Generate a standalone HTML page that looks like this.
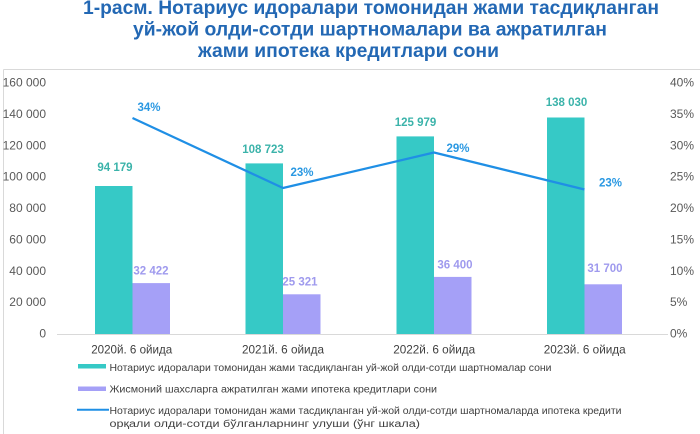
<!DOCTYPE html>
<html>
<head>
<meta charset="utf-8">
<style>
html,body{margin:0;padding:0;background:#fff;width:700px;height:434px;overflow:hidden;}
svg{display:block;}
text{font-family:"Liberation Sans","DejaVu Sans",sans-serif;}
</style>
</head>
<body>
<svg width="700" height="434" viewBox="0 0 700 434" xmlns="http://www.w3.org/2000/svg">
  <rect x="0" y="0" width="700" height="434" fill="#fff"/>
  <!-- Title -->
  <g fill="#2368b4" font-weight="bold" font-size="19">
    <text x="83" y="14" textLength="576" lengthAdjust="spacingAndGlyphs">1-расм. Нотариус идоралари томонидан жами тасдиқланган</text>
    <text x="133" y="35.5" textLength="474" lengthAdjust="spacingAndGlyphs">уй-жой олди-сотди шартномалари ва ажратилган</text>
    <text x="198" y="57" textLength="301" lengthAdjust="spacingAndGlyphs">жами ипотека кредитлари сони</text>
  </g>
  <!-- chart box (top and left border) -->
  <line x1="3.5" y1="69.5" x2="700" y2="69.5" stroke="#d9d9d9" stroke-width="1"/>
  <line x1="3.5" y1="69.5" x2="3.5" y2="434" stroke="#d9d9d9" stroke-width="1"/>

  <!-- Left axis labels -->
  <g fill="#595959" font-size="12" text-anchor="end">
    <text x="46" y="86.5">160 000</text>
    <text x="46" y="117.9">140 000</text>
    <text x="46" y="149.3">120 000</text>
    <text x="46" y="180.6">100 000</text>
    <text x="46" y="212">80 000</text>
    <text x="46" y="243.4">60 000</text>
    <text x="46" y="274.8">40 000</text>
    <text x="46" y="306.1">20 000</text>
    <text x="46" y="337.5">0</text>
  </g>
  <!-- Right axis labels -->
  <g fill="#595959" font-size="12">
    <text x="670" y="86.5">40%</text>
    <text x="670" y="117.9">35%</text>
    <text x="670" y="149.3">30%</text>
    <text x="670" y="180.6">25%</text>
    <text x="670" y="212">20%</text>
    <text x="670" y="243.4">15%</text>
    <text x="670" y="274.8">10%</text>
    <text x="670" y="306.1">5%</text>
    <text x="670" y="337.5">0%</text>
  </g>

  <!-- Bars -->
  <g fill="#36c9c6">
    <rect x="95" y="186" width="37.5" height="148"/>
    <rect x="245.5" y="163.4" width="37.5" height="170.6"/>
    <rect x="396.5" y="136.4" width="37.5" height="197.6"/>
    <rect x="547" y="117.5" width="37.5" height="216.5"/>
  </g>
  <g fill="#a5a0f7">
    <rect x="132.5" y="283.1" width="37.5" height="50.9"/>
    <rect x="283" y="294.3" width="37.5" height="39.7"/>
    <rect x="434" y="276.9" width="37.5" height="57.1"/>
    <rect x="584.5" y="284.3" width="37.5" height="49.7"/>
  </g>
  <!-- axis line -->
  <line x1="57" y1="334.5" x2="668" y2="334.5" stroke="#d9d9d9" stroke-width="1"/>

  <!-- Line series -->
  <polyline points="132.5,118 283,188 434,152.5 584.5,189.5" fill="none" stroke="#1f8fe5" stroke-width="2.2" stroke-linejoin="round"/>

  <!-- Data labels -->
  <g font-weight="bold" font-size="11.5" text-anchor="middle" fill="#3bb3aa">
    <text x="115" y="171">94 179</text>
    <text x="263" y="153">108 723</text>
    <text x="415.5" y="126">125 979</text>
    <text x="566.5" y="106">138 030</text>
  </g>
  <g font-weight="bold" font-size="11.5" text-anchor="middle" fill="#9f9aee">
    <text x="151" y="274.5">32 422</text>
    <text x="300" y="285.5">25 321</text>
    <text x="455" y="268.5">36 400</text>
    <text x="605" y="272">31 700</text>
  </g>
  <g font-weight="bold" font-size="11.5" fill="#2a98e2">
    <text x="137.5" y="111">34%</text>
    <text x="290.5" y="176">23%</text>
    <text x="446.5" y="152">29%</text>
    <text x="599" y="186.5">23%</text>
  </g>

  <!-- Category labels -->
  <g fill="#404040" font-size="12" text-anchor="middle">
    <text x="131.7" y="353.5" textLength="81" lengthAdjust="spacingAndGlyphs">2020й. 6 ойида</text>
    <text x="283" y="353.5" textLength="82" lengthAdjust="spacingAndGlyphs">2021й. 6 ойида</text>
    <text x="434.2" y="353.5" textLength="82" lengthAdjust="spacingAndGlyphs">2022й. 6 ойида</text>
    <text x="584.7" y="353.5" textLength="82" lengthAdjust="spacingAndGlyphs">2023й. 6 ойида</text>
  </g>

  <!-- Legend -->
  <rect x="78" y="364" width="28" height="4.5" fill="#36c9c6"/>
  <rect x="78" y="386.5" width="28" height="4.5" fill="#a5a0f7"/>
  <line x1="77" y1="409.7" x2="109" y2="409.7" stroke="#1f8fe5" stroke-width="2"/>
  <g fill="#404040" font-size="10">
    <text x="109.5" y="371" textLength="442" lengthAdjust="spacingAndGlyphs">Нотариус идоралари томонидан жами тасдиқланган уй-жой олди-сотди шартномалар сони</text>
    <text x="109.5" y="392.5" textLength="327.5" lengthAdjust="spacingAndGlyphs">Жисмоний шахсларга ажратилган жами ипотека кредитлари сони</text>
    <text x="109.5" y="414" textLength="512" lengthAdjust="spacingAndGlyphs">Нотариус идоралари томонидан жами тасдиқланган уй-жой олди-сотди шартномаларда ипотека кредити</text>
    <text x="109.5" y="427" textLength="310.5" lengthAdjust="spacingAndGlyphs">орқали олди-сотди бўлганларнинг улуши (ўнг шкала)</text>
  </g>
</svg>
</body>
</html>
